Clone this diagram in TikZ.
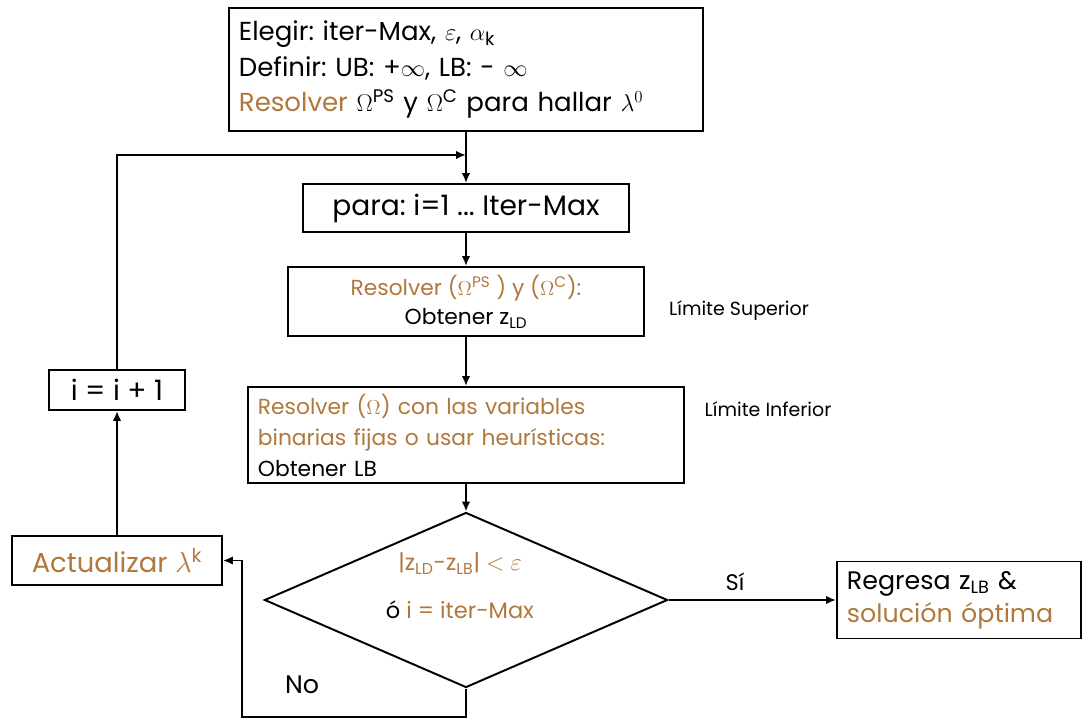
\documentclass[tikz,border=0pt]{standalone}
\usepackage{fontspec}
\setmainfont{Poppins}
\usetikzlibrary{shapes.geometric,arrows.meta}
\definecolor{ocre}{RGB}{176,120,60}
\newcommand{\oc}[1]{\textcolor{ocre}{#1}}
\frenchspacing

\begin{document}
\begin{tikzpicture}[
						x=0.025cm,
						y=-0.025cm,
						>={Latex[length=7pt,width=6pt]},
						line width=1.4pt,
						caja/.style={draw, rectangle, inner sep=0pt, font=\fontsize{19.5}{25}\selectfont},
						rombo/.style={draw, diamond, inner sep=0pt, minimum width=10.075cm, minimum height=4.375cm},
						nota/.style={font=\fontsize{13.5}{15}\selectfont},
						rotulo/.style={font=\fontsize{16}{18}\selectfont}
					]
					\useasboundingbox (0,0) rectangle (1084,720);
					% bloques del algoritmo
					\node[caja, font=\fontsize{18.5}{25}\selectfont, minimum width=11.85cm, minimum height=3.075cm, text width=11.35cm, inner xsep=0.25cm, align=left] (init) at (466,69.5) {
						Elegir: iter-Max, $\varepsilon$, $\alpha_{\mathrm{k}}$\\
						Definir: UB: +$\infty$, LB: - $\infty$\\
						\oc{Resolver} $\Omega^{\mathrm{PS}}$ y $\Omega^{\mathrm{C}}$ para hallar $\lambda^0$
					};
					\node[caja, font=\fontsize{20}{24}\selectfont, minimum width=8.125cm, minimum height=1.2cm] (loop) at (466,208) {para: i=1 ... Iter-Max};
					\node[caja, font=\fontsize{15.5}{21}\selectfont, minimum width=8.875cm, minimum height=1.725cm, align=center] (upper) at (466,301.5) {
						\oc{Resolver ($\Omega^{\mathrm{PS}}$ ) y ($\Omega^{\mathrm{C}}$):}\\
						Obtener z\textsubscript{LD}
					};
					\node[caja, font=\fontsize{15.5}{22}\selectfont, minimum width=10.9cm, minimum height=2.4cm, text width=10.4cm, inner xsep=0.25cm, align=left] (lower) at (466,435) {
						\oc{Resolver ($\Omega$) con las variables}\\
						\oc{binarias fijas o usar heurísticas:}\\
						Obtener LB
					};
					\node[rombo] (cond) at (466,600) {};
					\node[font=\fontsize{16}{34}\selectfont, align=center] (condtxt) at (460,586) {
						\oc{|z\textsubscript{LD}-z\textsubscript{LB}| $<$ $\varepsilon$}\\
						ó \oc{i = iter-Max}
					};
					\node[caja, minimum width=5.25cm, minimum height=1.225cm] (update) at (117,560.5) {\oc{Actualizar $\lambda^{\mathrm{k}}$}};
					\node[caja, font=\fontsize{20}{24}\selectfont, minimum width=3.375cm, minimum height=1cm] (inc) at (117,390) {i = i + 1};
					\node[caja, font=\fontsize{18}{23.5}\selectfont, minimum width=6.1cm, minimum height=1.925cm, text width=5.6cm, inner xsep=0.25cm, align=left] (result) at (959,600) {
						Regresa z\textsubscript{LB} \&\\
						\oc{solución óptima}
					};
					% cotas y rotulos
					\node[nota] (sup) at (739,311) {Límite Superior};
					\node[nota] (inf) at (768,409) {Límite Inferior};
					\node[rotulo] (si) at (735,582) {Sí};
					\node[rotulo, font=\fontsize{18}{20}\selectfont] (no) at (302,685) {No};
					\coordinate (join) at (466,155);
					\coordinate (back) at (242,717);
					% conexiones
					\draw[->] (init) -- (loop);
					\draw[->] (inc) |- (join);
					\draw[->] (loop) -- (upper);
					\draw[->] (upper) -- (lower);
					\draw[->] (lower) -- (cond);
					\draw[->] (cond) -- (result);
					\draw[->] (cond.south) -- (cond.south |- back) -- (back) |- (update);
					\draw[->] (update) -- (inc);
				\end{tikzpicture}
\end{document}
